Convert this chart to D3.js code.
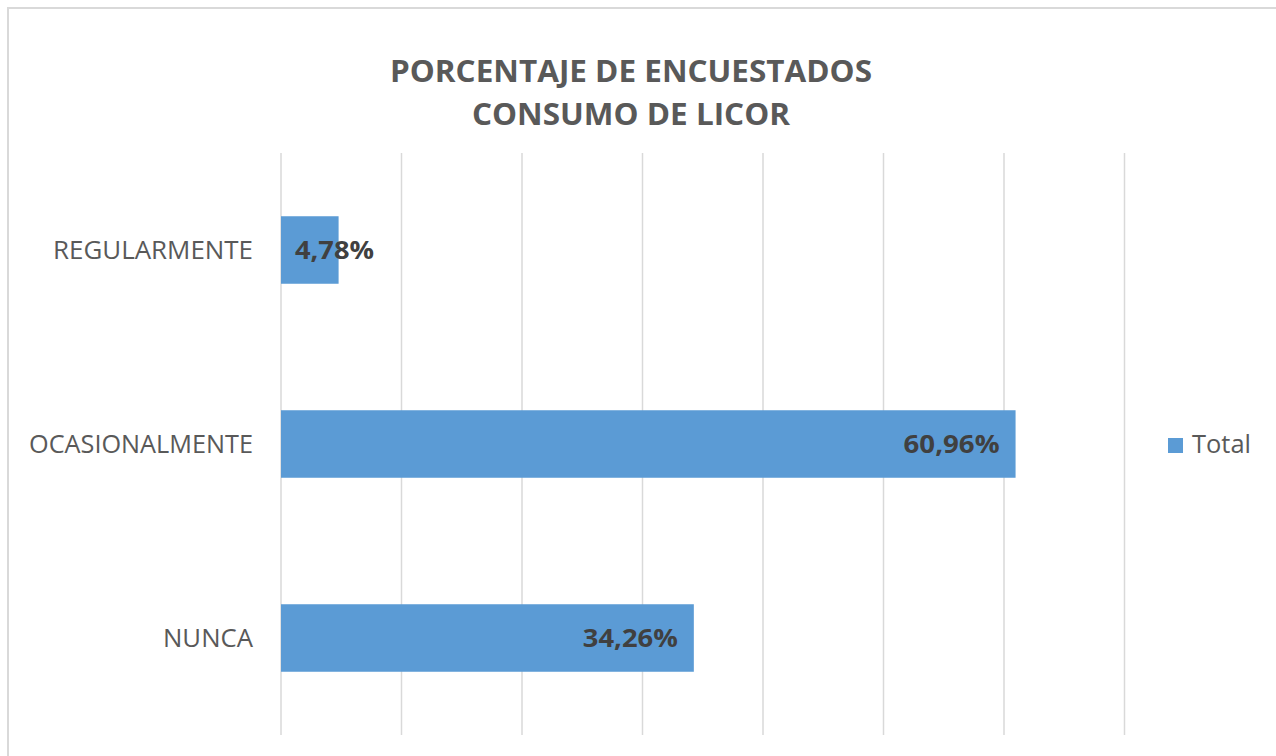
<!DOCTYPE html>
<html>
<head>
<meta charset="utf-8">
<script src="https://cdn.jsdelivr.net/npm/d3@7"></script>
<style>
  html, body { margin: 0; padding: 0; background: #fff; }
  svg { display: block; }
</style>
</head>
<body>
<svg id="chart" width="1276" height="756"></svg>
<script>
const titleLines = ["PORCENTAJE DE ENCUESTADOS", "CONSUMO DE LICOR"];
const categories = ["REGULARMENTE", "OCASIONALMENTE", "NUNCA"];
const values = [0.0478, 0.6096, 0.3426];
const valueLabels = ["4,78%", "60,96%", "34,26%"];
const seriesName = "Total";
const xTicks = [0, 0.1, 0.2, 0.3, 0.4, 0.5, 0.6, 0.7];

const svg = d3.select("#chart");
const font = "'Open Sans', 'DejaVu Sans', sans-serif";

// chart area border (cropped at right/bottom)
svg.append("rect")
  .attr("x", 8).attr("y", 8).attr("width", 1400).attr("height", 900)
  .attr("fill", "#fff").attr("stroke", "#d9d9d9").attr("stroke-width", 2);

const x = d3.scaleLinear().domain([0, 0.7]).range([281, 1124.5]);
const y = d3.scaleBand().domain(categories).range([153, 735])
  .paddingInner(0.652).paddingOuter(0.326);

// gridlines
svg.append("g").selectAll("line").data(xTicks).join("line")
  .attr("x1", d => x(d)).attr("x2", d => x(d))
  .attr("y1", 153).attr("y2", 735)
  .attr("stroke", "#d9d9d9").attr("stroke-width", 1.5);

// title
const titleWidths = [482, 318];
svg.append("g").selectAll("text").data(titleLines).join("text")
  .attr("x", 631).attr("y", (d, i) => 82 + i * 43)
  .attr("text-anchor", "middle")
  .attr("font-family", font).attr("font-weight", 700).attr("font-size", 31)
  .attr("fill", "#595959")
  .attr("textLength", (d, i) => titleWidths[i])
  .attr("lengthAdjust", "spacingAndGlyphs")
  .text(d => d);

// bars
svg.append("g").selectAll("rect").data(categories).join("rect")
  .attr("x", x(0))
  .attr("y", d => y(d))
  .attr("width", (d, i) => x(values[i]) - x(0))
  .attr("height", y.bandwidth())
  .attr("fill", "#5b9bd5");

// category labels
const catWidths = [200, 224, 90];
svg.append("g").selectAll("text").data(categories).join("text")
  .attr("x", 253)
  .attr("y", d => y(d) + y.bandwidth() / 2 + 8.5)
  .attr("text-anchor", "end")
  .attr("font-family", font).attr("font-size", 26)
  .attr("fill", "#595959")
  .attr("textLength", (d, i) => catWidths[i])
  .attr("lengthAdjust", "spacingAndGlyphs")
  .text(d => d);

// data labels
const labWidths = [79, 96, 95];
svg.append("g").selectAll("text").data(categories).join("text")
  .attr("x", (d, i) => Math.max(x(values[i]) - 16 - labWidths[i], x(0) + 14))
  .attr("y", d => y(d) + y.bandwidth() / 2 + 9)
  .attr("font-family", font).attr("font-weight", 700).attr("font-size", 25)
  .attr("fill", "#404040")
  .attr("textLength", (d, i) => labWidths[i])
  .attr("lengthAdjust", "spacingAndGlyphs")
  .text((d, i) => valueLabels[i]);

// legend
const lg = svg.append("g");
lg.append("rect").attr("x", 1168).attr("y", 438).attr("width", 15).attr("height", 15)
  .attr("fill", "#5b9bd5");
lg.append("text").attr("x", 1192).attr("y", 453)
  .attr("font-family", font).attr("font-size", 26).attr("fill", "#595959")
  .attr("textLength", 59).attr("lengthAdjust", "spacingAndGlyphs")
  .text(seriesName);
</script>
</body>
</html>
